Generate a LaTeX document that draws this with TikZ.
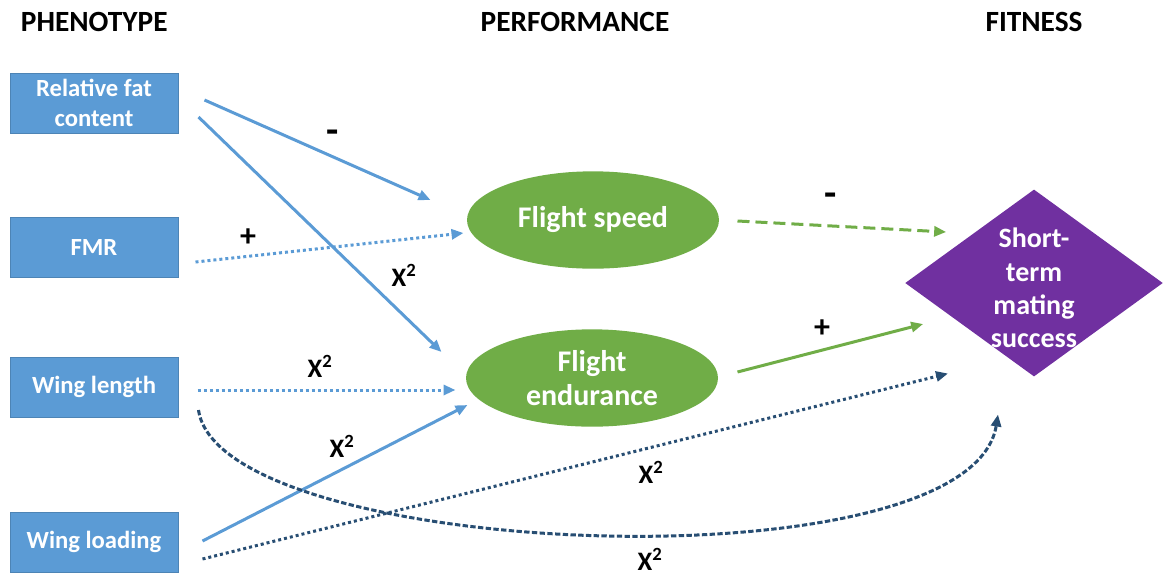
\documentclass[tikz,border=0pt]{standalone}
\usepackage{fontspec}
\setmainfont{Carlito}
\usetikzlibrary{shapes.geometric,arrows.meta}

\definecolor{phenoblue}{RGB}{91,155,213}
\definecolor{perfgreen}{RGB}{112,173,71}
\definecolor{fitpurple}{RGB}{112,48,160}
\definecolor{navylink}{RGB}{40,78,115}

\tikzset{every picture/.style={line width=2.25pt}}
\tikzset{
  heading/.style={font=\fontsize{22}{26}\selectfont\bfseries},
  phenobox/.style={fill=phenoblue, draw=phenoblue!85!black, line width=0.75pt,
    minimum width=126pt, minimum height=45pt, text=white, align=center,
    font=\fontsize{18.5}{22}\selectfont\bfseries},
  perfnode/.style={ellipse, fill=perfgreen, minimum width=189pt, minimum height=73pt,
    inner sep=0pt, text=white, align=center, font=\fontsize{22.5}{26}\selectfont\bfseries},
  fitnode/.style={diamond, fill=fitpurple, minimum width=194pt, minimum height=141pt,
    inner sep=0pt},
  fittext/.style={text=white, align=center, inner sep=0pt,
    font=\fontsize{21}{25}\selectfont\bfseries},
  sign/.style={inner sep=0pt, font=\fontsize{24}{24}\selectfont\bfseries},
  minus/.style={inner sep=0pt, font=\fontsize{30}{30}\selectfont\bfseries},
  coef/.style={inner sep=0pt, font=\fontsize{20}{20}\selectfont\bfseries},
  tip/.style={-{Triangle[length=9pt,width=7.5pt]}},
  bluesolid/.style={tip, draw=phenoblue},
  bluedots/.style={tip, draw=phenoblue, dash pattern=on 2.25pt off 2.25pt},
  navydots/.style={tip, draw=navylink, dash pattern=on 2.25pt off 2.25pt},
  navydash/.style={tip, draw=navylink, dash pattern=on 4pt off 1.8pt},
  greensolid/.style={tip, draw=perfgreen},
  greendash/.style={tip, draw=perfgreen, dash pattern=on 9pt off 4.5pt}
}

\begin{document}
\begin{tikzpicture}[x=0.75pt,y=0.75pt,yscale=-1,xscale=1]
\useasboundingbox (0,0) rectangle (1163,576);

% Headings
\node[heading, anchor=west] (hpheno) at (15,22) {PHENOTYPE};
\node[heading] (hperf) at (575,22) {PERFORMANCE};
\node[heading] (hfit) at (1034,22) {FITNESS};

% Phenotype boxes
\node[phenobox] (fat) at (94,103) {Relative fat\\content};
\node[phenobox] (fmr) at (94,247) {FMR};
\node[phenobox] (wlen) at (94,387) {Wing length};
\node[phenobox] (wload) at (94,542) {Wing loading};

% Performance
\node[perfnode] (speed) at (593,220) {Flight speed};
\node[perfnode] (endur) at (592,378) {Flight\\endurance};

% Fitness
\node[fitnode] (fit) at (1034,283) {};
\node[fittext] (fitlabel) at (1034,288) {Short-\\term\\mating\\success};

% Phenotype -> performance
\draw[bluesolid] ([shift={(26,-3)}]fat.east) -- ([shift={(-35,-20)}]speed.west);
\draw[bluesolid] ([shift={(20,14)}]fat.east) -- ([shift={(-23,-26)}]endur.west);
\draw[bluedots] ([shift={(17,15)}]fmr.east) -- ([shift={(-2,13)}]speed.west);
\draw[bluedots] ([shift={(19,3)}]wlen.east) -- ([shift={(-9,12)}]endur.west);
\draw[bluesolid] ([shift={(24,-1)}]wload.east) -- ([shift={(3,27)}]endur.west);

% Phenotype -> fitness
\draw[navydots] ([shift={(24,17)}]wload.east) -- ([shift={(-86,-5)}]fit.south);
\draw[navydash] ([shift={(20,23)}]wlen.east) .. controls (220,560) and (970,590) .. ([shift={(-36,36)}]fit.south);

% Performance -> fitness
\draw[greendash] ([shift={(17,1)}]speed.east) -- ([shift={(43,-51)}]fit.west);
\draw[greensolid] ([shift={(18,-6)}]endur.east) -- ([shift={(20,41)}]fit.west);

% Signs
\node[minus] (s1) at (333,137) {-};
\node[sign] (s2) at (248,238) {+};
\node[minus] (s3) at (831,200) {-};
\node[sign] (s4) at (822,329) {+};
\node[coef] (c1) at (404,275) {X\textsuperscript{2}};
\node[coef] (c2) at (320,366) {X\textsuperscript{2}};
\node[coef] (c3) at (342,446) {X\textsuperscript{2}};
\node[coef] (c4) at (651,472) {X\textsuperscript{2}};
\node[coef] (c5) at (650,559) {X\textsuperscript{2}};

\end{tikzpicture}
\end{document}
